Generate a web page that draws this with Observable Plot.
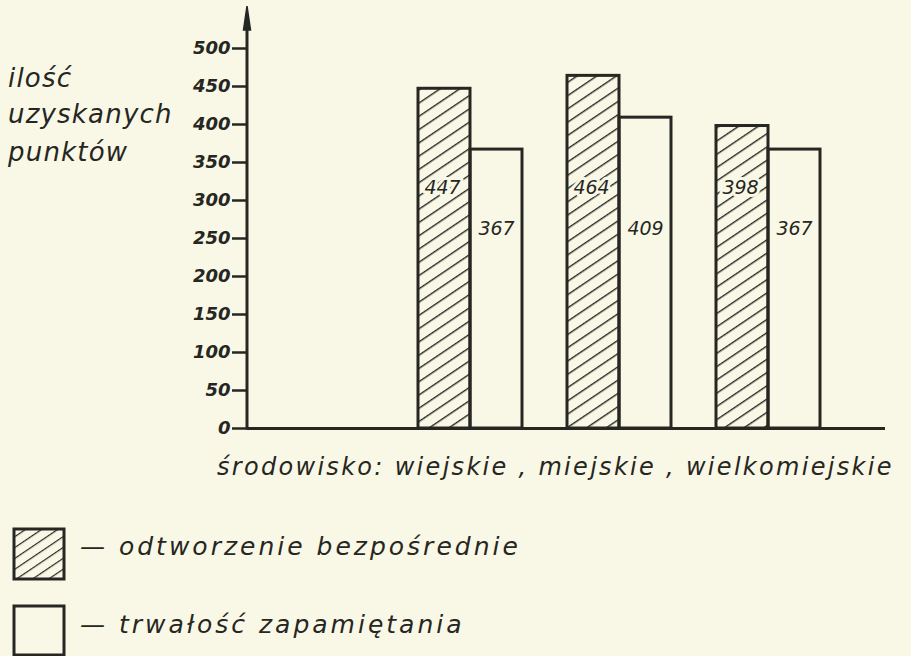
<!DOCTYPE html>
<html>
<head>
<meta charset="utf-8">
<script src="https://cdn.jsdelivr.net/npm/d3@7"></script>
<script src="https://cdn.jsdelivr.net/npm/@observablehq/plot@0.6"></script>
<style>
  html, body { margin: 0; padding: 0; background: #f9f8e6; }
  #wrap { position: relative; width: 911px; height: 656px; overflow: hidden; font-family: "DejaVu Sans", sans-serif; color: #262622; }
  #chart { position: absolute; left: 0; top: 0; }
  .t { position: absolute; font-style: italic; white-space: nowrap; line-height: 1; }
  .ytitle { left: 8px; font-size: 26px; letter-spacing: 1.2px; }
  #caption { left: 217px; top: 455px; font-size: 24px; letter-spacing: 2.3px; }
  .leg { position: absolute; left: 12px; }
  .legtext { left: 80px; font-size: 25px; letter-spacing: 3px; }
</style>
</head>
<body>
<div id="wrap">
  <div id="chart"></div>
  <div class="t ytitle" id="yt1" style="top:65px">ilość</div>
  <div class="t ytitle" id="yt2" style="top:101px">uzyskanych</div>
  <div class="t ytitle" id="yt3" style="top:139px">punktów</div>
  <div class="t" id="caption">środowisko: wiejskie , miejskie , wielkomiejskie</div>
  <svg class="leg" style="top:527px" width="56" height="54">
    <defs>
      <pattern id="hatchLeg" patternUnits="userSpaceOnUse" width="9" height="9" patternTransform="rotate(56)">
        <line x1="0" y1="0" x2="0" y2="9" stroke="#262622" stroke-width="2.4"></line>
      </pattern>
    </defs>
    <rect x="2" y="2" width="50" height="50" fill="url(#hatchLeg)" stroke="#262622" stroke-width="3"></rect>
  </svg>
  <div class="t legtext" id="leg1" style="top:534px">— odtworzenie bezpośrednie</div>
  <svg class="leg" style="top:604px" width="56" height="52">
    <rect x="2" y="2" width="50" height="49" fill="none" stroke="#262622" stroke-width="3"></rect>
  </svg>
  <div class="t legtext" id="leg2" style="top:612px">— trwałość zapamiętania</div>
</div>
<script>
// ---- data ----
const categories = ["wiejskie", "miejskie", "wielkomiejskie"];
const series = ["odtworzenie bezpośrednie", "trwałość zapamiętania"];
const immediateValues = [447, 464, 398];   // odtworzenie bezpośrednie (hatched)
const retentionValues = [367, 409, 367];   // trwałość zapamiętania (white)
const yTicks = [0, 50, 100, 150, 200, 250, 300, 350, 400, 450, 500];
const yTickLabels = ["0", "50", "100", "150", "200", "250", "300", "350", "400", "450", "500"];

// ---- styling ----
const ink = "#262622";
const bg = "#f9f8e6";
const labelLevel = {[series[0]]: 316, [series[1]]: 262};

const rows = [];
categories.forEach((c, i) => {
  rows.push({cat: c, series: series[0], value: immediateValues[i]});
  rows.push({cat: c, series: series[1], value: retentionValues[i]});
});
const hatched = rows.filter(d => d.series === series[0]);
const white = rows.filter(d => d.series === series[1]);

const halfBand = 52;

const axisArrow = (index, scales, values, dimensions) => {
  const x = dimensions.marginLeft;
  const yBottom = dimensions.height - dimensions.marginBottom;
  const g = d3.create("svg:g");
  g.append("line")
    .attr("x1", x).attr("x2", x)
    .attr("y1", yBottom + 1.5).attr("y2", 14)
    .attr("stroke", ink).attr("stroke-width", 3);
  g.append("path")
    .attr("d", `M${x - 3.5},${30} L${x},${6} L${x + 3.5},${30} Z`)
    .attr("fill", ink).attr("stroke", ink).attr("stroke-width", 1.5);
  return g.node();
};

const plot = Plot.plot({
  width: 911,
  height: 490,
  marginTop: 48,
  marginBottom: 62,
  marginLeft: 247,
  marginRight: 26,
  style: {background: "transparent", color: ink, fontFamily: "'DejaVu Sans', sans-serif", overflow: "visible"},
  x: {domain: categories, range: [373, 865], padding: 0.3, axis: null},
  y: {domain: [0, 500], axis: null, label: null},
  marks: [
    Plot.barY(hatched, {x: "cat", y: "value", insetRight: halfBand, fill: "url(#hatch)", stroke: ink, strokeWidth: 3}),
    Plot.barY(white, {x: "cat", y: "value", insetLeft: halfBand, fill: "none", stroke: ink, strokeWidth: 3}),
    Plot.text(hatched, {x: "cat", y: d => labelLevel[d.series], dx: -halfBand / 2 - 2, text: d => String(d.value),
      fill: ink, stroke: bg, strokeWidth: 6, fontSize: 19, fontStyle: "italic"}),
    Plot.text(white, {x: "cat", y: d => labelLevel[d.series], dx: halfBand / 2, text: d => String(d.value),
      fill: ink, fontSize: 19, fontStyle: "italic"}),
    Plot.ruleY([0], {stroke: ink, strokeWidth: 3}),
    Plot.axisY(yTicks, {anchor: "left", label: null, tickSize: 15, tickPadding: 2, stroke: ink, strokeWidth: 2.5,
      tickFormat: (d) => yTickLabels[yTicks.indexOf(d)], fontSize: 18, fontStyle: "italic", fontWeight: "bold", fill: ink}),
    axisArrow
  ]
});

const svg = d3.select(plot);
const defs = svg.insert("defs", ":first-child");
const pat = defs.append("pattern")
  .attr("id", "hatch").attr("patternUnits", "userSpaceOnUse")
  .attr("width", 11).attr("height", 11)
  .attr("patternTransform", "rotate(56)");
pat.append("line").attr("x1", 0).attr("y1", 0).attr("x2", 0).attr("y2", 11)
  .attr("stroke", ink).attr("stroke-width", 2.8);

document.getElementById("chart").appendChild(plot);
</script>
</body>
</html>
